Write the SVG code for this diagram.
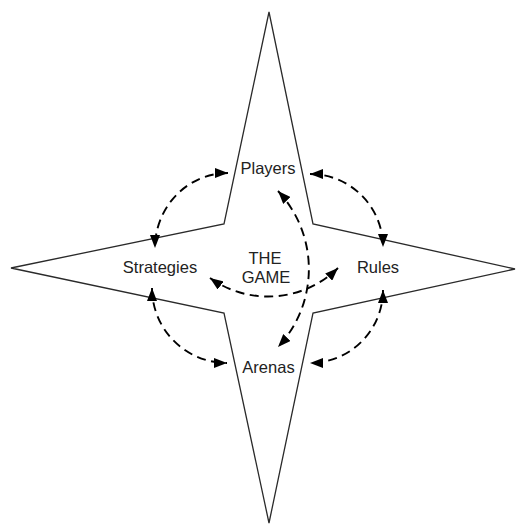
<svg xmlns="http://www.w3.org/2000/svg" width="516" height="525" viewBox="0 0 516 525">
<style>
.star{fill:#fff;stroke:#2a2a2a;stroke-width:1.3;stroke-linejoin:miter}
.lbl{font-family:"Liberation Sans",Arial,sans-serif;font-size:16.5px;fill:#222;text-anchor:middle}
.arc{fill:none;stroke:#000;stroke-width:1.9;stroke-dasharray:9 5.5}
</style>
<defs>
<marker id="ah" viewBox="0 0 13 10" refX="13" refY="5" markerWidth="13" markerHeight="10" markerUnits="userSpaceOnUse" orient="auto-start-reverse">
<path d="M0,0 L13,5 L0,10 Z" fill="#000"/>
</marker>
</defs>
<rect width="516" height="525" fill="#fff"/>
<g id="star">
<polygon class="star" points="269,12 313,224 515,269 313,313 269,523 224,313 11,268 224,224"/>
</g>
<g id="connectors">
<path class="arc" marker-start="url(#ah)" marker-end="url(#ah)" d="M228,173 A73 75 0 0 0 155,248"/>
<path class="arc" marker-start="url(#ah)" marker-end="url(#ah)" d="M310,174 A73 73 0 0 1 383,247"/>
<path class="arc" marker-start="url(#ah)" marker-end="url(#ah)" d="M152,288 A75 75 0 0 0 227,363"/>
<path class="arc" marker-start="url(#ah)" marker-end="url(#ah)" d="M383,290 A73 73 0 0 1 310,363"/>
<path class="arc" marker-start="url(#ah)" marker-end="url(#ah)" d="M210,278 A100 100 0 0 0 338,268"/>
<path class="arc" marker-start="url(#ah)" marker-end="url(#ah)" d="M278,191 A114 114 0 0 1 278,347"/>
</g>
<g id="players"><text class="lbl" x="268" y="174">Players</text></g>
<g id="strategies"><text class="lbl" x="160" y="273">Strategies</text></g>
<g id="rules"><text class="lbl" x="378" y="273">Rules</text></g>
<g id="arenas"><text class="lbl" x="268.5" y="373">Arenas</text></g>
<g id="game"><text class="lbl" x="265" y="264">THE</text><text class="lbl" x="266" y="283">GAME</text></g>
</svg>
